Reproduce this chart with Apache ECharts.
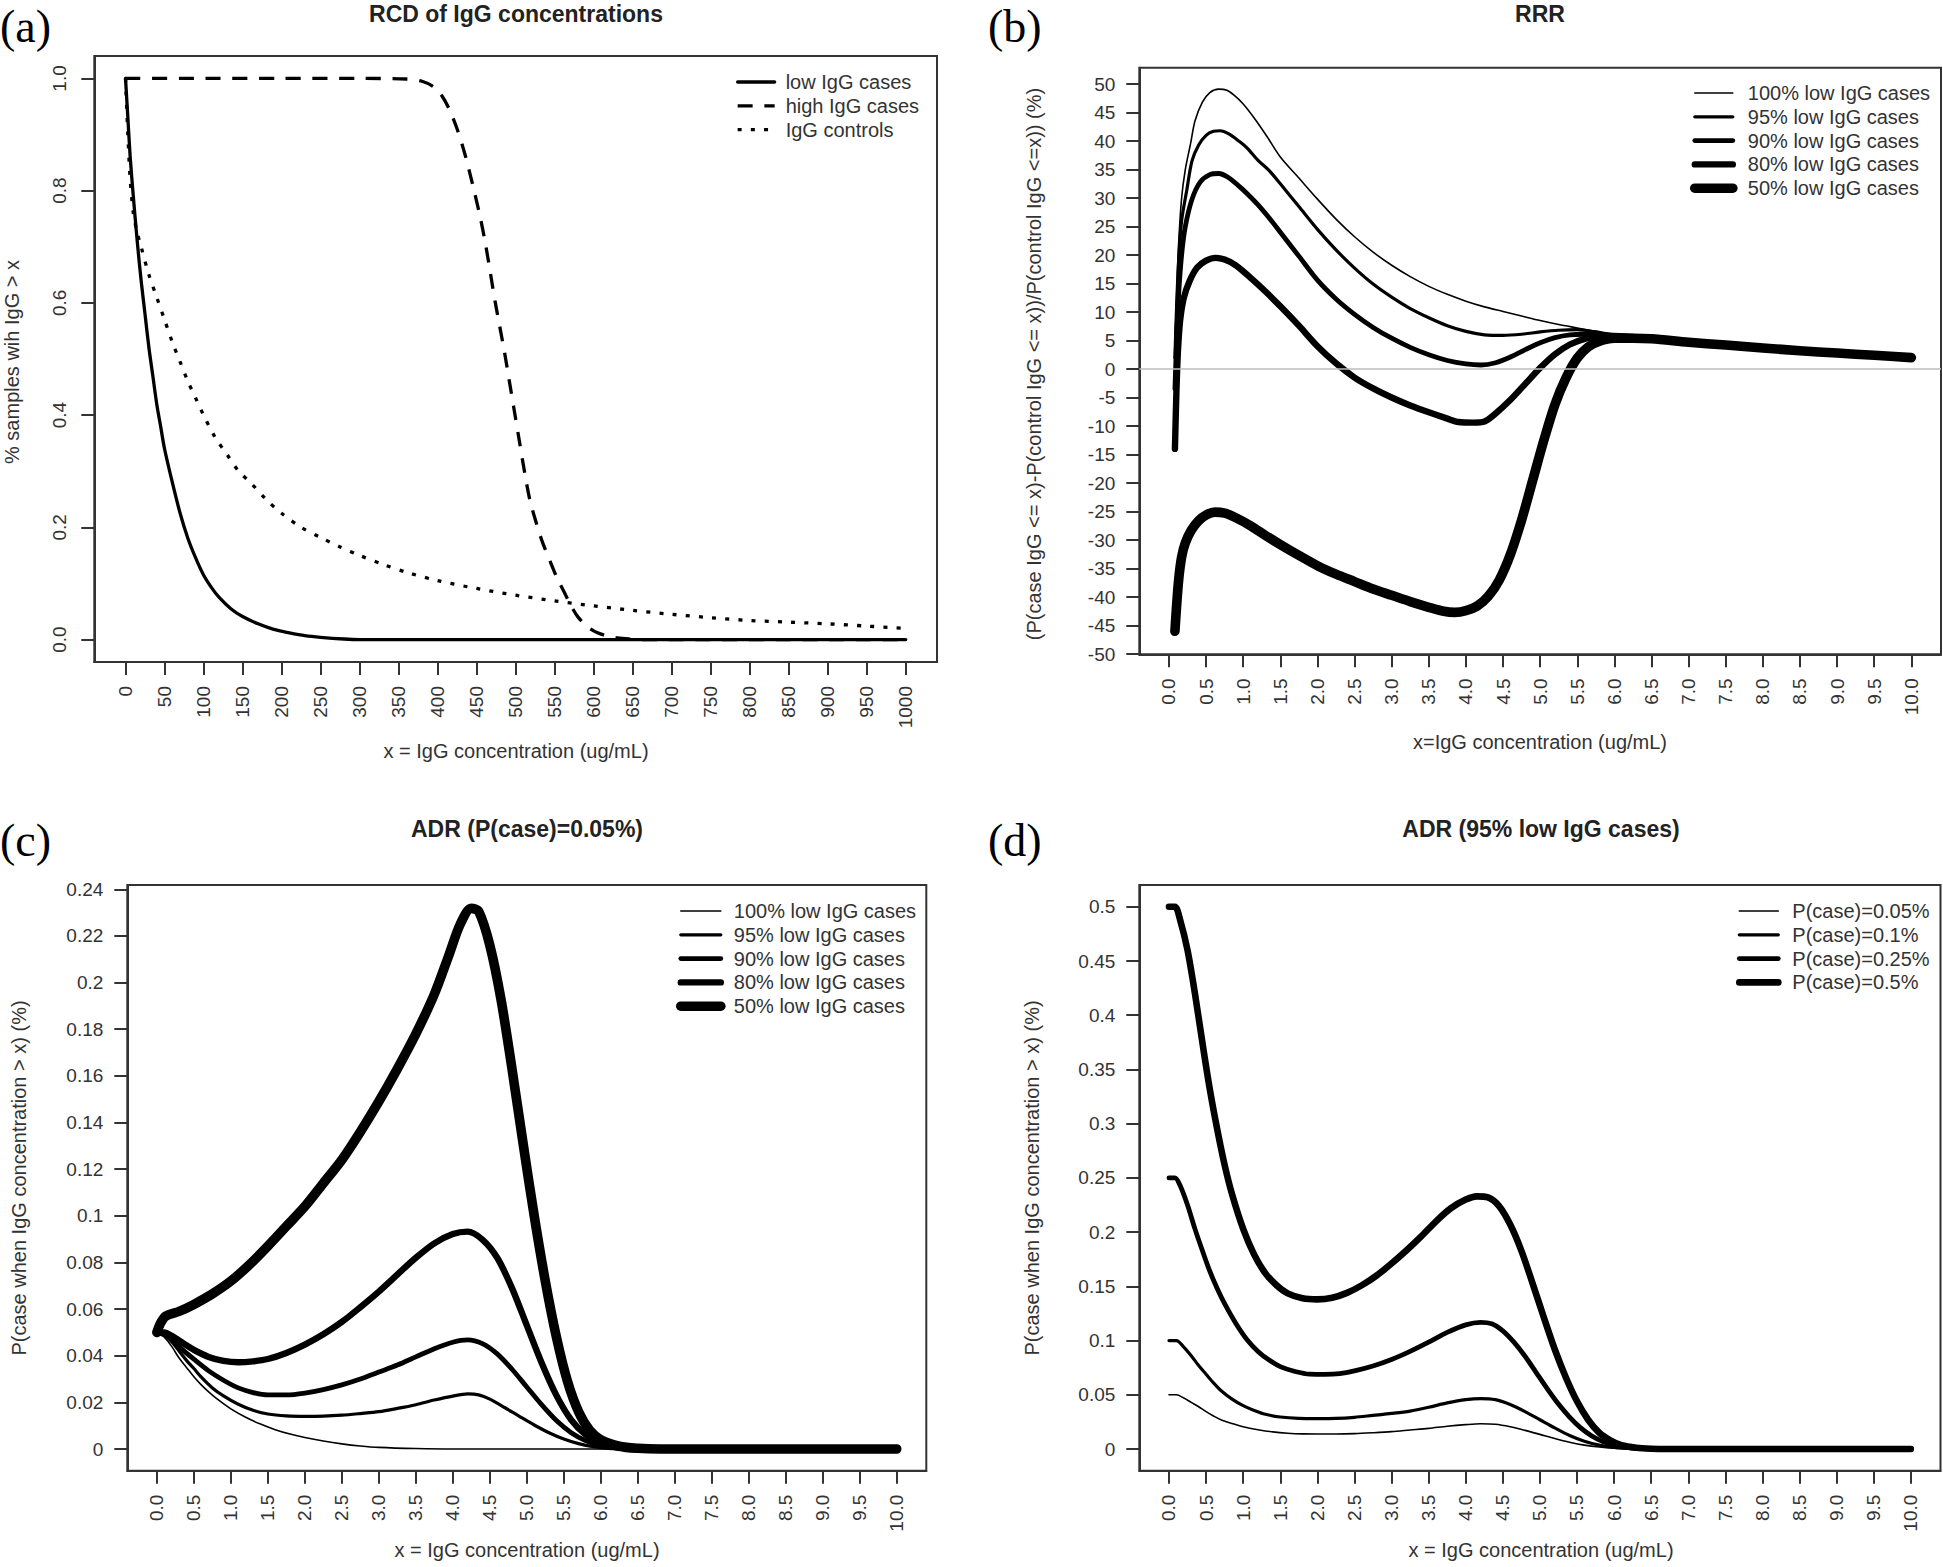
<!DOCTYPE html>
<html>
<head>
<meta charset="utf-8">
<script src="https://cdn.jsdelivr.net/npm/echarts@6/dist/echarts.min.js"></script>
<style>html,body{margin:0;padding:0;background:#fff;}#c{width:1943px;height:1567px;}</style>
</head>
<body>
<div id="c"></div>
<script>
// ---------- tick values / labels ----------
const aXTicks = [0,50,100,150,200,250,300,350,400,450,500,550,600,650,700,750,800,850,900,950,1000];
const aXLabels = ['0','50','100','150','200','250','300','350','400','450','500','550','600','650','700','750','800','850','900','950','1000'];
const aYTicks = [0,0.2,0.4,0.6,0.8,1.0];
const aYLabels = ['0.0','0.2','0.4','0.6','0.8','1.0'];
const tenTicks = [0,0.5,1,1.5,2,2.5,3,3.5,4,4.5,5,5.5,6,6.5,7,7.5,8,8.5,9,9.5,10];
const tenLabels = ['0.0','0.5','1.0','1.5','2.0','2.5','3.0','3.5','4.0','4.5','5.0','5.5','6.0','6.5','7.0','7.5','8.0','8.5','9.0','9.5','10.0'];
const bYTicks = [-50,-45,-40,-35,-30,-25,-20,-15,-10,-5,0,5,10,15,20,25,30,35,40,45,50];
const bYLabels = ['-50','-45','-40','-35','-30','-25','-20','-15','-10','-5','0','5','10','15','20','25','30','35','40','45','50'];
const cYTicks = [0,0.02,0.04,0.06,0.08,0.1,0.12,0.14,0.16,0.18,0.2,0.22,0.24];
const cYLabels = ['0','0.02','0.04','0.06','0.08','0.1','0.12','0.14','0.16','0.18','0.2','0.22','0.24'];
const dYTicks = [0,0.05,0.1,0.15,0.2,0.25,0.3,0.35,0.4,0.45,0.5];
const dYLabels = ['0','0.05','0.1','0.15','0.2','0.25','0.3','0.35','0.4','0.45','0.5'];

// ---------- (a) RCD ----------
const aLow = [[0,1.0],[3,0.93],[6,0.86],[10,0.79],[15,0.71],[20,0.64],[25,0.58],[30,0.52],[35,0.47],[40,0.42],[45,0.38],[50,0.34],[60,0.28],[70,0.225],[80,0.18],[90,0.145],[100,0.115],[110,0.093],[120,0.075],[135,0.055],[150,0.041],[170,0.028],[190,0.018],[210,0.012],[230,0.007],[250,0.004],[280,0.001],[300,0],[1000,0]];
const aHigh = [[0,1.0],[100,1.0],[200,1.0],[300,1.0],[360,0.999],[380,0.995],[395,0.985],[405,0.97],[415,0.945],[425,0.91],[435,0.865],[445,0.81],[455,0.75],[462,0.70],[468,0.65],[474,0.60],[480,0.555],[486,0.51],[492,0.46],[498,0.41],[504,0.36],[510,0.31],[518,0.25],[526,0.21],[534,0.175],[544,0.14],[553,0.11],[562,0.085],[570,0.063],[580,0.04],[593,0.022],[605,0.012],[618,0.006],[630,0.003],[645,0.001],[660,0],[1000,0]];
const aCtrl = [[0,1.0],[3,0.9],[6,0.82],[10,0.76],[15,0.725],[20,0.70],[30,0.65],[40,0.61],[50,0.57],[60,0.53],[70,0.495],[80,0.46],[90,0.43],[100,0.40],[115,0.36],[130,0.33],[145,0.30],[160,0.28],[180,0.25],[200,0.225],[225,0.2],[250,0.182],[275,0.165],[300,0.15],[330,0.134],[360,0.12],[400,0.105],[450,0.091],[500,0.079],[550,0.069],[600,0.06],[650,0.052],[700,0.045],[750,0.039],[800,0.034],[850,0.031],[900,0.028],[950,0.024],[1000,0.02]];

// ---------- (b) RRR ----------
const bTail = [[6.5,5.3],[7.0,4.7],[7.5,4.2],[8.0,3.7],[8.5,3.2],[9.0,2.8],[9.5,2.4],[10.0,2.0]];
const b100 = [[0.08,4],[0.1,12],[0.13,22],[0.17,30],[0.22,35],[0.29,39.5],[0.35,43.5],[0.45,46.8],[0.55,48.5],[0.67,49.1],[0.78,48.9],[0.88,48.0],[1.0,46.5],[1.15,44.0],[1.32,40.8],[1.5,37.2],[1.75,33.5],[2.0,29.8],[2.25,26.3],[2.5,23.2],[2.75,20.5],[3.0,18.2],[3.25,16.2],[3.5,14.5],[3.75,13.1],[4.0,11.9],[4.25,10.9],[4.5,10.1],[4.75,9.3],[5.0,8.5],[5.25,7.8],[5.5,7.2],[5.75,6.6],[6.0,6.0]].concat(bTail);
const b95 = [[0.08,2],[0.1,10],[0.13,19],[0.17,26],[0.24,31.4],[0.31,36.5],[0.4,39.3],[0.5,41.0],[0.6,41.7],[0.69,41.8],[0.8,41.3],[0.95,39.9],[1.05,38.8],[1.2,36.6],[1.35,34.8],[1.5,32.5],[1.75,28.5],[2.0,24.5],[2.25,20.9],[2.5,17.7],[2.75,14.9],[3.0,12.6],[3.25,10.6],[3.5,9.0],[3.75,7.6],[4.0,6.6],[4.25,6.0],[4.5,5.9],[4.75,6.1],[5.0,6.5],[5.25,6.8],[5.5,6.9],[5.75,6.5],[6.0,6.0]].concat(bTail);
const b90 = [[0.08,-3.5],[0.1,4],[0.13,13],[0.17,20],[0.22,25],[0.31,29.8],[0.42,32.8],[0.55,34.1],[0.67,34.3],[0.8,33.6],[0.95,32.0],[1.05,30.8],[1.2,28.8],[1.35,26.5],[1.5,24.0],[1.75,19.8],[2.0,15.6],[2.25,12.3],[2.5,9.6],[2.75,7.3],[3.0,5.4],[3.25,3.8],[3.5,2.5],[3.75,1.5],[4.0,0.9],[4.2,0.7],[4.4,1.1],[4.6,2.1],[4.8,3.4],[5.0,4.6],[5.2,5.5],[5.4,6.0],[5.6,6.1],[5.8,6.0],[6.0,5.9]].concat(bTail);
const b80 = [[0.08,-14],[0.1,-4],[0.12,3],[0.15,8.5],[0.2,12.5],[0.28,15.5],[0.38,17.8],[0.5,19.0],[0.63,19.5],[0.75,19.2],[0.9,18.2],[1.1,16.0],[1.3,13.6],[1.5,11.0],[1.75,7.6],[2.0,4.0],[2.25,1.0],[2.5,-1.5],[2.75,-3.4],[3.0,-5.0],[3.25,-6.4],[3.5,-7.6],[3.75,-8.7],[3.9,-9.3],[4.1,-9.4],[4.25,-9.2],[4.4,-7.8],[4.6,-5.4],[4.8,-2.6],[5.0,0.2],[5.2,2.6],[5.4,4.3],[5.6,5.3],[5.8,5.7],[6.0,5.8]].concat(bTail);
const b50 = [[0.08,-46],[0.1,-42],[0.13,-37],[0.17,-33],[0.22,-30.5],[0.3,-28.3],[0.4,-26.6],[0.5,-25.6],[0.62,-25.1],[0.75,-25.3],[0.9,-26.1],[1.1,-27.5],[1.3,-29.2],[1.5,-30.8],[1.75,-32.7],[2.0,-34.5],[2.25,-36.0],[2.5,-37.3],[2.75,-38.6],[3.0,-39.7],[3.25,-40.8],[3.5,-41.8],[3.7,-42.5],[3.85,-42.7],[4.0,-42.4],[4.15,-41.6],[4.3,-39.9],[4.45,-37.0],[4.6,-32.5],[4.75,-26.5],[4.9,-19.5],[5.05,-12.5],[5.2,-6.2],[5.35,-1.5],[5.5,1.9],[5.65,3.9],[5.8,4.9],[6.0,5.4],[6.25,5.4]].concat(bTail);

// ---------- (c) ADR, P(case)=0.05% ----------
const c100 = [[0,0.05],[0.1,0.048],[0.2,0.044],[0.3,0.039],[0.4,0.035],[0.5,0.031],[0.6,0.0275],[0.7,0.0245],[0.8,0.0218],[1.0,0.0172],[1.2,0.0136],[1.4,0.0107],[1.6,0.0083],[1.8,0.0064],[2.0,0.0049],[2.25,0.0034],[2.5,0.0022],[2.75,0.0013],[3.0,0.0007],[3.5,0.0002],[4.0,0],[10,0]];
const c95 = [[0,0.05],[0.1,0.049],[0.2,0.046],[0.3,0.042],[0.4,0.038],[0.5,0.0345],[0.6,0.0308],[0.75,0.0262],[0.9,0.0228],[1.1,0.0192],[1.3,0.0166],[1.5,0.015],[1.75,0.0142],[2.0,0.014],[2.25,0.0141],[2.5,0.0145],[2.75,0.0152],[3.0,0.016],[3.25,0.0174],[3.5,0.019],[3.75,0.021],[4.0,0.0227],[4.2,0.0236],[4.35,0.0232],[4.5,0.0214],[4.7,0.0178],[4.9,0.014],[5.1,0.0103],[5.3,0.007],[5.5,0.0043],[5.7,0.0023],[5.9,0.001],[6.1,0.0003],[6.3,0],[10,0]];
const c90 = [[0,0.05],[0.1,0.049],[0.2,0.047],[0.35,0.0425],[0.5,0.0385],[0.7,0.0335],[0.9,0.0295],[1.1,0.0262],[1.3,0.0242],[1.5,0.0232],[1.75,0.0232],[2.0,0.024],[2.25,0.0255],[2.5,0.0275],[2.75,0.030],[3.0,0.033],[3.25,0.036],[3.5,0.0395],[3.75,0.043],[4.0,0.0458],[4.2,0.0468],[4.4,0.0452],[4.6,0.0408],[4.8,0.0342],[5.0,0.0266],[5.2,0.019],[5.4,0.0122],[5.6,0.007],[5.8,0.0035],[6.0,0.0015],[6.2,0.0005],[6.4,0],[10,0]];
const c80 = [[0,0.05],[0.1,0.05],[0.2,0.0485],[0.35,0.0455],[0.5,0.0425],[0.7,0.0395],[0.9,0.0378],[1.1,0.0372],[1.3,0.0376],[1.5,0.0386],[1.75,0.0412],[2.0,0.0448],[2.25,0.0492],[2.5,0.0545],[2.75,0.0608],[3.0,0.0675],[3.25,0.0748],[3.5,0.082],[3.75,0.0882],[4.0,0.0922],[4.2,0.0932],[4.4,0.0898],[4.6,0.082],[4.8,0.069],[5.0,0.053],[5.2,0.037],[5.4,0.023],[5.6,0.0125],[5.8,0.006],[6.0,0.0025],[6.2,0.001],[6.5,0.0002],[6.8,0],[10,0]];
const c50 = [[0,0.05],[0.05,0.054],[0.12,0.057],[0.3,0.059],[0.5,0.062],[0.75,0.0665],[1.0,0.072],[1.25,0.079],[1.5,0.087],[1.75,0.0955],[2.0,0.104],[2.25,0.114],[2.5,0.124],[2.75,0.136],[3.0,0.149],[3.25,0.163],[3.5,0.178],[3.75,0.195],[3.95,0.212],[4.1,0.225],[4.25,0.2318],[4.35,0.2305],[4.5,0.216],[4.65,0.193],[4.8,0.163],[4.95,0.131],[5.1,0.100],[5.25,0.072],[5.4,0.048],[5.55,0.029],[5.7,0.016],[5.85,0.008],[6.0,0.004],[6.25,0.0012],[6.5,0.0003],[6.8,0],[10,0]];

// ---------- (d) ADR, 95% low IgG cases ----------
const d005 = [[0,0.05],[0.1,0.05],[0.2,0.047],[0.3,0.043],[0.4,0.039],[0.5,0.0345],[0.6,0.0305],[0.7,0.027],[0.85,0.0235],[1.0,0.0205],[1.2,0.0178],[1.4,0.0158],[1.6,0.0146],[1.8,0.014],[2.0,0.0139],[2.25,0.0139],[2.5,0.0142],[2.75,0.015],[3.0,0.016],[3.25,0.0175],[3.5,0.019],[3.75,0.021],[4.0,0.0225],[4.2,0.0233],[4.4,0.0228],[4.6,0.0205],[4.8,0.0172],[5.0,0.0135],[5.2,0.0097],[5.4,0.0063],[5.6,0.0036],[5.8,0.0018],[6.0,0.0007],[6.2,0.0002],[6.4,0],[10,0]];
const d01 = [[0,0.1],[0.1,0.1],[0.2,0.094],[0.3,0.086],[0.4,0.077],[0.5,0.069],[0.6,0.061],[0.7,0.054],[0.85,0.046],[1.0,0.04],[1.15,0.0355],[1.3,0.032],[1.5,0.0295],[1.75,0.0282],[2.0,0.028],[2.25,0.0282],[2.5,0.0292],[2.75,0.031],[3.0,0.0328],[3.25,0.035],[3.5,0.0385],[3.75,0.0425],[4.0,0.0455],[4.2,0.0465],[4.4,0.0455],[4.6,0.041],[4.8,0.0345],[5.0,0.027],[5.2,0.0195],[5.4,0.0125],[5.6,0.0072],[5.8,0.0036],[6.0,0.0015],[6.2,0.0005],[6.4,0],[10,0]];
const d025 = [[0,0.25],[0.08,0.25],[0.15,0.243],[0.25,0.225],[0.35,0.203],[0.45,0.183],[0.55,0.164],[0.65,0.148],[0.75,0.134],[0.9,0.116],[1.05,0.101],[1.2,0.09],[1.35,0.082],[1.5,0.076],[1.7,0.0715],[1.9,0.069],[2.1,0.0688],[2.3,0.0695],[2.5,0.072],[2.75,0.0765],[3.0,0.0825],[3.25,0.09],[3.5,0.0985],[3.75,0.1075],[4.0,0.1145],[4.2,0.1168],[4.35,0.1155],[4.5,0.109],[4.65,0.0985],[4.8,0.0855],[4.95,0.0705],[5.1,0.0555],[5.25,0.0415],[5.4,0.0295],[5.55,0.0195],[5.7,0.012],[5.85,0.0068],[6.0,0.0035],[6.2,0.0012],[6.4,0.0003],[6.6,0],[10,0]];
const d05 = [[0,0.5],[0.08,0.5],[0.15,0.488],[0.25,0.46],[0.35,0.42],[0.45,0.375],[0.55,0.332],[0.65,0.295],[0.75,0.262],[0.85,0.235],[1.0,0.203],[1.15,0.179],[1.3,0.162],[1.45,0.151],[1.6,0.1435],[1.8,0.139],[2.0,0.138],[2.2,0.1395],[2.4,0.144],[2.6,0.151],[2.8,0.16],[3.0,0.171],[3.2,0.183],[3.4,0.196],[3.6,0.21],[3.8,0.222],[4.0,0.23],[4.15,0.233],[4.3,0.232],[4.45,0.224],[4.6,0.207],[4.75,0.183],[4.9,0.153],[5.05,0.122],[5.2,0.092],[5.35,0.066],[5.5,0.044],[5.65,0.027],[5.8,0.015],[5.95,0.008],[6.1,0.0035],[6.3,0.0012],[6.5,0.0003],[6.7,0],[10,0]];

const bNames = ['100% low IgG cases','95% low IgG cases','90% low IgG cases','80% low IgG cases','50% low IgG cases'];
const dNames = ['P(case)=0.05%','P(case)=0.1%','P(case)=0.25%','P(case)=0.5%'];
const aNames = ['low IgG cases','high IgG cases','IgG controls'];

// ---------- styling / layout ----------
const FONT = '"Liberation Sans", Arial, Helvetica, sans-serif';
const SERIF = '"Liberation Serif", "Times New Roman", serif';
const INK = '#333';
const bWidths = [1.6, 3.2, 4.8, 6.4, 9.6];
const dWidths = [1.6, 3.2, 4.8, 6.6];

const grids = [
  {left: 94.3, top: 56, width: 842.7, height: 606},
  {left: 1139.3, top: 67.7, width: 801.7, height: 586.6},
  {left: 127.3, top: 885.1, width: 799, height: 585.6},
  {left: 1139.3, top: 885.1, width: 801.2, height: 585.6}
];

function fmt(ticks, labels) {
  return function (v) {
    for (let i = 0; i < ticks.length; i++) if (Math.abs(ticks[i] - v) < 1e-9) return labels[i];
    return '';
  };
}
function xAx(g, min, max, ticks, labels) {
  return {
    type: 'value', gridIndex: g, min: min, max: max,
    axisLine: {show: true, onZero: false, lineStyle: {color: INK, width: 2}},
    axisTick: {show: true, length: 13, lineStyle: {color: INK, width: 2}, customValues: ticks},
    axisLabel: {show: true, customValues: ticks, rotate: 90, margin: 24, fontSize: 19, color: INK, fontFamily: FONT, formatter: fmt(ticks, labels)},
    splitLine: {show: false}
  };
}
function yAx(g, min, max, ticks, labels, rot) {
  return {
    type: 'value', gridIndex: g, min: min, max: max,
    axisLine: {show: true, onZero: false, lineStyle: {color: INK, width: 2}},
    axisTick: {show: true, length: 13, lineStyle: {color: INK, width: 2}, customValues: ticks},
    axisLabel: {show: true, customValues: ticks, rotate: rot, margin: rot ? 25 : 24, fontSize: 19, color: INK, fontFamily: FONT, formatter: fmt(ticks, labels)},
    splitLine: {show: false}
  };
}
function line(name, idx, data, width, type) {
  return {
    type: 'line', name: name, xAxisIndex: idx, yAxisIndex: idx, data: data,
    showSymbol: false, symbol: 'none', smooth: 0.3, animation: false,
    lineStyle: {color: '#000', width: width, type: type || 'solid', cap: type ? 'butt' : 'round', join: 'round'},
    itemStyle: {color: '#000'}, emphasis: {disabled: true}
  };
}
function legend(names, widths, types, left, top, iw, pad) {
  return {
    orient: 'vertical', left: left, top: top, itemWidth: iw, itemHeight: 14, itemGap: 3.8,
    selectedMode: false, padding: 0,
    itemStyle: {opacity: 0},
    textStyle: {fontSize: 20, fontFamily: FONT, color: INK, lineHeight: 20, padding: [0, 0, 0, pad]},
    data: names.map(function (n, i) {
      return {name: n, lineStyle: {width: widths[i], type: types ? types[i] : 'solid', color: '#000'}};
    })
  };
}
function txt(x, y, s, font, rot, color) {
  return {type: 'text', x: x, y: y, rotation: rot || 0, silent: true,
    style: {text: s, font: font, fill: color || INK, align: 'center', verticalAlign: 'middle'}};
}

const dashA = [15, 11.7], dotA = [4, 9.2];

const option = {
  backgroundColor: '#fff',
  animation: false,
  grid: grids.map(function (g) {
    return Object.assign({show: true, borderColor: INK, borderWidth: 2, backgroundColor: 'transparent', containLabel: false, outerBoundsMode: 'none'}, g);
  }),
  xAxis: [
    xAx(0, -40, 1040, aXTicks, aXLabels),
    xAx(1, -0.4, 10.4, tenTicks, tenLabels),
    xAx(2, -0.4, 10.4, tenTicks, tenLabels),
    xAx(3, -0.4, 10.4, tenTicks, tenLabels)
  ],
  yAxis: [
    yAx(0, -0.04, 1.04, aYTicks, aYLabels, 90),
    yAx(1, -50.05, 52.86, bYTicks, bYLabels, 0),
    yAx(2, -0.0093, 0.2418, cYTicks, cYLabels, 0),
    yAx(3, -0.02, 0.52, dYTicks, dYLabels, 0)
  ],
  legend: [
    legend(aNames, [3.3, 3.3, 3.3], ['solid', dashA, dotA], 736, 72, 37, 6),
    legend(bNames, bWidths, null, 1690, 83, 38, 10),
    legend(bNames, bWidths, null, 676, 901, 40, 8),
    legend(dNames, dWidths, null, 1736, 901, 39, 9)
  ],
  series: [
    line(aNames[0], 0, aLow, 3.3),
    line(aNames[1], 0, aHigh, 3.3, dashA),
    line(aNames[2], 0, aCtrl, 3.3, dotA),

    Object.assign(line(bNames[0], 1, b100, bWidths[0]), {
      markLine: {silent: true, symbol: 'none', animation: false, label: {show: false},
        lineStyle: {color: '#bdbdbd', width: 1.6, type: 'solid'}, data: [{yAxis: 0}]}
    }),
    line(bNames[1], 1, b95, bWidths[1]),
    line(bNames[2], 1, b90, bWidths[2]),
    line(bNames[3], 1, b80, bWidths[3]),
    line(bNames[4], 1, b50, bWidths[4]),

    line(bNames[0], 2, c100, bWidths[0]),
    line(bNames[1], 2, c95, bWidths[1]),
    line(bNames[2], 2, c90, bWidths[2]),
    line(bNames[3], 2, c80, bWidths[3]),
    line(bNames[4], 2, c50, bWidths[4]),

    line(dNames[0], 3, d005, dWidths[0]),
    line(dNames[1], 3, d01, dWidths[1]),
    line(dNames[2], 3, d025, dWidths[2]),
    line(dNames[3], 3, d05, dWidths[3])
  ],
  graphic: [
    {type: 'group', silent: true, children: [
      {type: 'text', x: 0, y: 26, silent: true, style: {text: '(a)', font: '46px ' + SERIF, fill: '#000', align: 'left', verticalAlign: 'middle'}},
      {type: 'text', x: 988, y: 26, silent: true, style: {text: '(b)', font: '46px ' + SERIF, fill: '#000', align: 'left', verticalAlign: 'middle'}},
      {type: 'text', x: 0, y: 840, silent: true, style: {text: '(c)', font: '46px ' + SERIF, fill: '#000', align: 'left', verticalAlign: 'middle'}},
      {type: 'text', x: 988, y: 840, silent: true, style: {text: '(d)', font: '46px ' + SERIF, fill: '#000', align: 'left', verticalAlign: 'middle'}},

      txt(516, 14, 'RCD of IgG concentrations', 'bold 23px ' + FONT, 0, '#222'),
      txt(1540, 14, 'RRR', 'bold 23px ' + FONT, 0, '#222'),
      txt(527, 829, 'ADR (P(case)=0.05%)', 'bold 23px ' + FONT, 0, '#222'),
      txt(1541, 829, 'ADR (95% low IgG cases)', 'bold 23px ' + FONT, 0, '#222'),

      txt(516, 751, 'x = IgG concentration (ug/mL)', '20px ' + FONT),
      txt(1540, 742, 'x=IgG concentration (ug/mL)', '20px ' + FONT),
      txt(527, 1550, 'x = IgG concentration (ug/mL)', '20px ' + FONT),
      txt(1541, 1550, 'x = IgG concentration (ug/mL)', '20px ' + FONT),

      txt(12, 362, '% samples wih IgG > x', '20px ' + FONT, Math.PI / 2),
      txt(1034, 364, '(P(case IgG <= x)-P(control IgG <= x))/P(control IgG <=x)) (%)', '20px ' + FONT, Math.PI / 2),
      txt(19, 1178, 'P(case when IgG concentration > x) (%)', '20px ' + FONT, Math.PI / 2),
      txt(1032, 1178, 'P(case when IgG concentration > x) (%)', '20px ' + FONT, Math.PI / 2)
    ]}
  ]
};

const chart = echarts.init(document.getElementById('c'), null, {renderer: 'svg', width: 1943, height: 1567});
chart.setOption(option);
</script>
</body>
</html>
